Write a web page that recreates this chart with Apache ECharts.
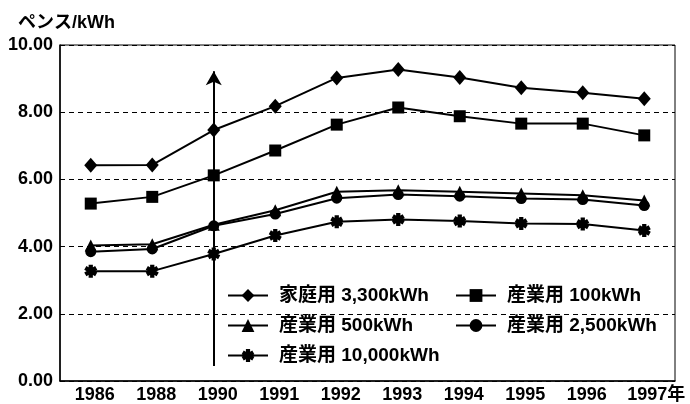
<!DOCTYPE html>
<html><head><meta charset="utf-8">
<script src="https://cdn.jsdelivr.net/npm/echarts@6/dist/echarts.min.js"></script>
<style>html,body{margin:0;padding:0;background:#fff}#c{width:690px;height:404px}</style>
</head><body><div id="c"></div>
<script>
var years = ['1986','1988','1990','1991','1992','1993','1994','1995','1996','1997'];
var home3300 = [6.42,6.43,7.47,8.18,9.02,9.27,9.03,8.73,8.58,8.40];
var ind100 = [5.28,5.48,6.12,6.86,7.63,8.14,7.88,7.66,7.66,7.31];
var ind500 = [4.03,4.07,4.65,5.08,5.63,5.68,5.63,5.58,5.53,5.37];
var ind2500 = [3.85,3.93,4.62,4.97,5.44,5.55,5.50,5.43,5.40,5.22];
var ind10000 = [3.27,3.27,3.78,4.33,4.74,4.81,4.76,4.69,4.67,4.48];
var yTicks = [0,2,4,6,8,10];
var names = ['家庭用 3,300kWh','産業用 100kWh','産業用 500kWh','産業用 2,500kWh','産業用 10,000kWh'];
var arrowRange = [0.45, 9.22];

var FONT = "'Liberation Sans','Noto Sans CJK JP',sans-serif";
var asterisk = 'path://M-1.7,-5L1.7,-5L1.7,5L-1.7,5Z M3.48,-3.97L5.18,-1.03L-3.48,3.97L-5.18,1.03Z M5.18,1.03L3.48,3.97L-5.18,-1.03L-3.48,-3.97Z';

function mk(name, data, symbol, size, extra){
  var s = {
    name: name, type: 'line', data: data, symbol: symbol, symbolSize: size,
    showAllSymbol: true,
    lineStyle: {color: '#000', width: 2},
    itemStyle: {color: '#000', borderColor: '#000', borderWidth: 0},
    emphasis: {disabled: true}, animation: false, z: 3
  };
  if (extra) for (var k in extra) s[k] = extra[k];
  return s;
}

var chart = echarts.init(document.getElementById('c'));
var legendText = {color: '#000', fontSize: 19, fontWeight: 'bold', fontFamily: FONT, lineHeight: 19, padding: [0,0,0,6]};
var lg = {orient: 'vertical', padding: 0, itemWidth: 40, itemHeight: 16, itemGap: 11, textStyle: legendText, selectedMode: false};
chart.setOption({
  backgroundColor: '#fff',
  animation: false,
  title: {text: 'ペンス/kWh', left: 13, top: 9, textStyle: {color: '#000', fontSize: 18, fontWeight: 'bold', fontFamily: FONT}},
  grid: {left: 60, right: 15, top: 45, bottom: 21, show: true, borderColor: '#000', borderWidth: 1, backgroundColor: 'transparent'},
  legend: [
    Object.assign({data: [names[0], names[2], names[4]], left: 227, top: 286}, lg),
    Object.assign({data: [names[1], names[3]], left: 455, top: 286}, lg)
  ],
  xAxis: {
    type: 'category', data: years, boundaryGap: true,
    axisLine: {lineStyle: {color: '#000', width: 1.5}},
    axisTick: {inside: true, length: 6, lineStyle: {color: '#000', width: 1}},
    axisLabel: {
      color: '#000', fontSize: 18, fontWeight: 'bold', fontFamily: FONT, margin: 5, interval: 0,
      formatter: function(v, i){ return i === years.length - 1 ? '{b|' + v + '年}' : '{a|' + v + '}'; },
      rich: {a: {fontSize: 18, fontWeight: 'bold', fontFamily: FONT, color: '#000', padding: [0,0,0,8]}, b: {fontSize: 18, fontWeight: 'bold', fontFamily: FONT, color: '#000', padding: [0,0,0,24]}}
    },
    splitLine: {show: false}
  },
  yAxis: {
    type: 'value', min: yTicks[0], max: yTicks[yTicks.length-1], interval: 2,
    axisLine: {show: true, lineStyle: {color: '#000', width: 1.5}},
    axisTick: {show: false},
    axisLabel: {color: '#000', fontSize: 18, fontWeight: 'bold', fontFamily: FONT, margin: 7, formatter: function(v){ return v.toFixed(2); }},
    splitLine: {show: true, lineStyle: {color: '#000', width: 1, type: [5,4]}}
  },
  series: [
    mk(names[0], home3300, 'diamond', [13,15]),
    mk(names[1], ind100, 'rect', 12),
    mk(names[2], ind500, 'triangle', 12),
    mk(names[3], ind2500, 'circle', 11),
    mk(names[4], ind10000, asterisk, 13, {
      markLine: {
        silent: true, symbol: ['none','arrow'], symbolSize: [12, 14],
        label: {show: false},
        lineStyle: {color: '#000', width: 2, type: 'solid'},
        data: [[{coord: [years[2], arrowRange[0]]}, {coord: [years[2], arrowRange[1]]}]]
      }
    })
  ]
});
</script></body></html>
